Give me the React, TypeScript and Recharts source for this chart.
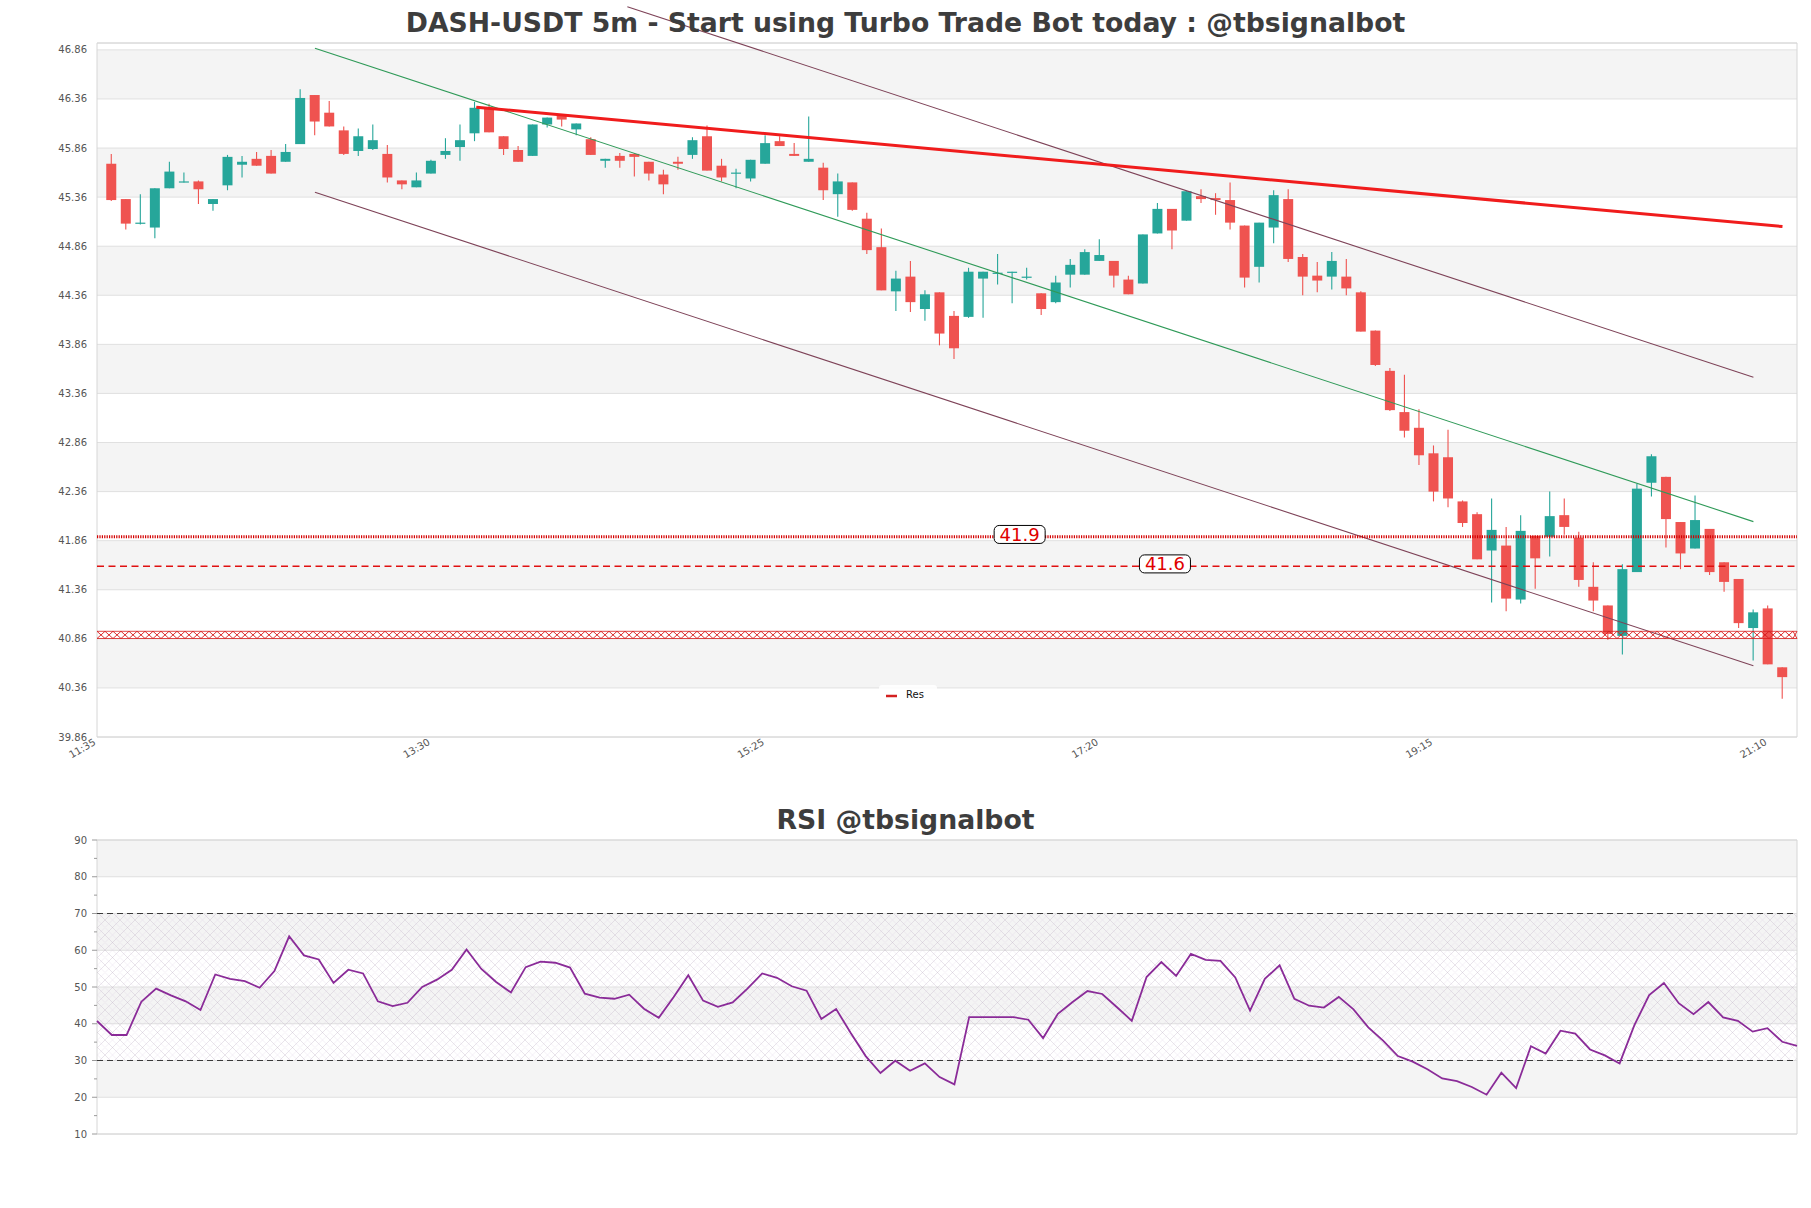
import React from 'react';
import {
  ComposedChart,
  Bar,
  Line,
  XAxis,
  YAxis,
  CartesianGrid,
  ReferenceLine,
  ReferenceArea,
  ReferenceDot,
} from 'recharts';

// ---------- DATA ----------
const opens = [
  45.70, 45.34, 45.09, 45.05, 45.45, 45.51, 45.52, 45.29, 45.48, 45.69,
  45.75, 45.78, 45.72, 45.90, 46.40, 46.22, 46.04, 45.83, 45.85, 45.80,
  45.53, 45.46, 45.60, 45.79, 45.87, 46.01, 46.27, 45.98, 45.84, 45.78,
  46.10, 46.19, 46.05, 45.95, 45.73, 45.78, 45.80, 45.72, 45.59, 45.72,
  45.79, 45.98, 45.68, 45.60, 45.55, 45.70, 45.93, 45.80, 45.72, 45.66,
  45.39, 45.51, 45.14, 44.85, 44.40, 44.55, 44.22, 44.39, 44.15, 44.14,
  44.53, 44.58, 44.59, 44.55, 44.38, 44.29, 44.57, 44.57, 44.71, 44.71,
  44.52, 44.48, 44.99, 45.24, 45.12, 45.37, 45.35, 45.33, 45.07, 44.65,
  45.05, 45.34, 44.75, 44.56, 44.55, 44.55, 44.39, 44.00, 43.59, 43.17,
  43.01, 42.75, 42.71, 42.26, 42.13, 41.76, 41.81, 41.26, 41.91, 41.90,
  42.12, 41.89, 41.39, 41.20, 40.89, 41.54, 42.45, 42.51, 42.05, 41.78,
  41.98, 41.64, 41.47, 40.97, 41.17, 40.57,
];
const highs = [
  45.80, 45.34, 45.39, 45.45, 45.72, 45.61, 45.53, 45.34, 45.79, 45.78,
  45.82, 45.84, 45.90, 46.46, 46.40, 46.34, 46.08, 46.06, 46.10, 45.89,
  45.53, 45.61, 45.74, 45.96, 46.10, 46.33, 46.31, 45.98, 45.88, 46.10,
  46.17, 46.19, 46.11, 45.97, 45.75, 45.81, 45.81, 45.72, 45.64, 45.77,
  45.97, 46.09, 45.75, 45.65, 45.74, 45.99, 45.98, 45.91, 46.18, 45.71,
  45.60, 45.51, 45.20, 45.04, 44.61, 44.71, 44.41, 44.39, 44.20, 44.64,
  44.60, 44.78, 44.60, 44.64, 44.38, 44.56, 44.73, 44.83, 44.93, 44.71,
  44.56, 44.98, 45.30, 45.24, 45.42, 45.44, 45.40, 45.51, 45.07, 45.10,
  45.43, 45.44, 44.78, 44.70, 44.80, 44.73, 44.40, 44.00, 43.62, 43.55,
  43.20, 42.83, 42.99, 42.27, 42.15, 42.29, 42.00, 42.12, 41.91, 42.36,
  42.29, 41.95, 41.64, 41.20, 41.62, 42.44, 42.74, 42.51, 42.05, 42.32,
  41.98, 41.64, 41.47, 41.16, 41.20, 40.57,
];
const lows = [
  45.32, 45.03, 45.08, 44.94, 45.45, 45.51, 45.29, 45.22, 45.43, 45.56,
  45.68, 45.60, 45.72, 45.90, 45.99, 46.08, 45.79, 45.78, 45.84, 45.51,
  45.44, 45.46, 45.60, 45.75, 45.73, 45.93, 46.02, 45.79, 45.72, 45.78,
  46.07, 46.08, 45.99, 45.79, 45.66, 45.66, 45.57, 45.53, 45.39, 45.64,
  45.75, 45.63, 45.52, 45.45, 45.52, 45.70, 45.88, 45.78, 45.72, 45.33,
  45.16, 45.22, 44.78, 44.41, 44.20, 44.19, 44.10, 43.85, 43.71, 44.13,
  44.13, 44.47, 44.28, 44.52, 44.16, 44.28, 44.44, 44.57, 44.71, 44.44,
  44.37, 44.48, 44.99, 44.83, 45.12, 45.30, 45.18, 45.03, 44.44, 44.49,
  44.89, 44.70, 44.36, 44.39, 44.42, 44.36, 43.99, 43.64, 43.18, 42.91,
  42.63, 42.26, 42.20, 42.00, 41.67, 41.23, 41.14, 41.22, 41.37, 41.70,
  41.92, 41.39, 41.14, 40.85, 40.70, 41.54, 42.31, 41.79, 41.57, 41.78,
  41.51, 41.34, 40.97, 40.64, 40.60, 40.25,
];
const closes = [
  45.33, 45.09, 45.10, 45.45, 45.62, 45.52, 45.44, 45.34, 45.77, 45.72,
  45.68, 45.60, 45.82, 46.37, 46.13, 46.08, 45.80, 45.98, 45.94, 45.56,
  45.49, 45.53, 45.73, 45.83, 45.94, 46.27, 46.02, 45.85, 45.72, 46.10,
  46.17, 46.15, 46.11, 45.79, 45.75, 45.73, 45.77, 45.60, 45.49, 45.70,
  45.94, 45.63, 45.56, 45.61, 45.74, 45.91, 45.88, 45.78, 45.75, 45.43,
  45.52, 45.23, 44.82, 44.41, 44.53, 44.29, 44.37, 43.97, 43.82, 44.60,
  44.60, 44.59, 44.60, 44.55, 44.22, 44.49, 44.67, 44.80, 44.77, 44.56,
  44.37, 44.98, 45.24, 45.02, 45.42, 45.34, 45.33, 45.10, 44.54, 45.10,
  45.38, 44.73, 44.55, 44.51, 44.71, 44.43, 43.99, 43.65, 43.19, 42.98,
  42.73, 42.36, 42.29, 42.04, 41.67, 41.97, 41.27, 41.96, 41.68, 42.11,
  42.00, 41.46, 41.25, 40.91, 41.57, 42.39, 42.72, 42.08, 41.73, 42.07,
  41.54, 41.44, 41.02, 41.13, 40.60, 40.47,
];

const rsiValues = [
  40.75, 36.94, 36.94, 46.0, 49.55, 47.73, 46.1, 43.74, 53.4, 52.2,
  51.6, 49.8, 54.35, 63.8, 58.6, 57.5, 51.1, 54.7, 53.7, 46.1,
  44.8, 45.7, 50.0, 52.0, 54.7, 60.2, 54.9, 51.35, 48.5, 55.4,
  56.9, 56.6, 55.3, 48.2, 47.1, 46.8, 47.9, 44.1, 41.6, 47.2,
  53.2, 46.3, 44.6, 45.8, 49.55, 53.7, 52.5, 50.2, 49.0, 41.3,
  44.0, 37.4, 31.2, 26.6, 29.95, 27.2, 29.2, 25.5, 23.5, 41.8,
  41.8, 41.8, 41.8, 41.1, 36.1, 42.7, 45.9, 48.9, 48.1, 44.5,
  40.8, 52.7, 56.8, 53.0, 59.0, 57.4, 57.1, 52.6, 43.6, 52.2,
  55.9, 46.8, 44.9, 44.4, 47.3, 43.9, 39.0, 35.4, 31.2, 29.7,
  27.6, 25.1, 24.4, 22.8, 20.7, 26.7, 22.5, 33.9, 31.9, 38.1,
  37.3, 33.0, 31.4, 29.2, 39.6, 47.8, 51.1, 45.6, 42.6, 45.9,
  41.75, 40.8, 37.85, 38.8, 35.1, 34.0,
];

const priceTicks = [
  39.86, 40.36, 40.86, 41.36, 41.86, 42.36, 42.86, 43.36,
  43.86, 44.36, 44.86, 45.36, 45.86, 46.36, 46.86,
];
const priceDomain = [39.86, 46.93];
const xDomain = [0, 117];
const xTickValues = [0, 23, 46, 69, 92, 115];
const xTickLabels = ['11:35', '13:30', '15:25', '17:20', '19:15', '21:10'];

const rsiDomain = [10, 90];
const rsiMajorTicks = [10, 20, 30, 40, 50, 60, 70, 80, 90];
const rsiAllTicks = [10, 15, 20, 25, 30, 35, 40, 45, 50, 55, 60, 65, 70, 75, 80, 85, 90];
const rsiBand = [30, 70];

const channelUpper = [{ x: 36.5, y: 47.30 }, { x: 114, y: 43.525 }];
const channelMid = [{ x: 15, y: 46.877 }, { x: 114, y: 42.054 }];
const channelLower = [{ x: 15, y: 45.41 }, { x: 114, y: 40.586 }];
const resistanceTrend = [{ x: 26.1, y: 46.276 }, { x: 116, y: 45.06 }];

const levelDotted = 41.9;
const levelDashed = 41.6;
const levelHatched = 40.9;
const levelTags = [
  { x: 63.5, y: 41.9, text: '41.9' },
  { x: 73.5, y: 41.6, text: '41.6' },
];

const candles = opens.map((o, k) => ({
  i: k + 1,
  o,
  h: highs[k],
  l: lows[k],
  c: closes[k],
  range: [lows[k], highs[k]],
}));
const rsiData = rsiValues.map((v, k) => ({ j: k, rsi: v }));

// ---------- SHAPES ----------
const UP = '#26a69a';
const DOWN = '#ef5350';

const Candle = (props: any) => {
  const { x, y, width, height, payload } = props;
  if (!payload || x == null || y == null) return null;
  const { o, h, l, c } = payload;
  const top0 = Math.min(y, y + height);
  const hgt = Math.abs(height);
  const ratio = h - l > 0 ? hgt / (h - l) : 0;
  const yOf = (v: number) => top0 + (h - v) * ratio;
  const color = c >= o ? UP : DOWN;
  const cx = x + width / 2;
  const bt = yOf(Math.max(o, c));
  const bb = yOf(Math.min(o, c));
  return (
    <g>
      <line x1={cx} x2={cx} y1={top0} y2={top0 + hgt} stroke={color} strokeWidth={1.1} />
      <rect x={x} y={bt} width={width} height={Math.max(bb - bt, 1.2)} fill={color} />
    </g>
  );
};

const HatchBand = (props: any) => {
  const { x1, x2, y1 } = props;
  if (x1 == null || y1 == null) return null;
  const half = 3.6;
  const top = y1 - half;
  const bot = y1 + half;
  const step = 8;
  const left = Math.min(x1, x2);
  const right = Math.max(x1, x2);
  let d = '';
  for (let px = left; px < right - 0.5; px += step) {
    const nx = Math.min(px + step, right);
    d += `M${px},${top}L${nx},${bot}M${nx},${top}L${px},${bot}`;
  }
  return (
    <g>
      <line x1={left} x2={right} y1={top} y2={top} stroke="#d81b1b" strokeWidth={0.8} />
      <line x1={left} x2={right} y1={bot} y2={bot} stroke="#d81b1b" strokeWidth={0.8} />
      <path d={d} stroke="#d81b1b" strokeWidth={0.9} fill="none" />
    </g>
  );
};

const LevelTag = ({ cx, cy, text }: any) => {
  if (cx == null || cy == null) return null;
  return (
    <g>
      <rect x={cx - 25.5} y={cy - 11.3} width={51} height={18} rx={5} ry={5} fill="#ffffff" stroke="#000000" strokeWidth={1} />
      <text x={cx} y={cy + 4} textAnchor="middle" fontSize={18} fill="#e00000">{text}</text>
    </g>
  );
};

const XTick = (props: any) => {
  const { x, y, payload } = props;
  const idx = xTickValues.indexOf(payload.value);
  const label = idx >= 0 ? xTickLabels[idx] : '';
  return (
    <g transform={`translate(${x - 4},${y + 1}) rotate(-30)`}>
      <text textAnchor="end" dy="0.71em" fontSize={10} fill="#555555">{label}</text>
    </g>
  );
};

const PriceTick = (props: any) => {
  const { x, y, payload } = props;
  return (
    <text x={x - 10} y={y} dy="0.35em" textAnchor="end" fontSize={10} fill="#555555">
      {Number(payload.value).toFixed(2)}
    </text>
  );
};

const RsiTick = (props: any) => {
  const { x, y, payload } = props;
  const v = payload.value;
  const major = rsiMajorTicks.indexOf(v) >= 0;
  return (
    <g>
      <line x1={x - (major ? 5 : 3)} x2={x} y1={y} y2={y} stroke="#9a9a9a" strokeWidth={1} />
      {major && (
        <text x={x - 10} y={y} dy="0.35em" textAnchor="end" fontSize={10} fill="#555555">{v}</text>
      )}
    </g>
  );
};

// ---------- APP ----------
export default function App() {
  const frame = '#d6d6d6';
  return (
    <div
      style={{
        position: 'absolute',
        left: 0,
        top: 0,
        width: 1811,
        height: 1208,
        background: '#ffffff',
        fontFamily: '"DejaVu Sans", sans-serif',
        overflow: 'hidden',
      }}
    >
      <div style={{ position: 'absolute', left: 0, top: 0 }}>
        <ComposedChart width={1811} height={790} data={candles} margin={{ top: 43, right: 14, bottom: 13, left: 0 }}>
          <CartesianGrid vertical={false} stroke="#e0e0e0" horizontalFill={['#ffffff', '#f4f4f4']} />
          <XAxis
            type="number"
            dataKey="i"
            domain={xDomain}
            ticks={xTickValues}
            interval={0}
            tick={<XTick />}
            tickLine={false}
            tickSize={0}
            tickMargin={0}
            axisLine={false}
            height={40}
            allowDataOverflow
          />
          <YAxis
            type="number"
            domain={priceDomain}
            ticks={priceTicks}
            interval={0}
            width={97}
            tick={<PriceTick />}
            tickLine={false}
            tickSize={0}
            tickMargin={0}
            axisLine={false}
            allowDataOverflow
          />
          <ReferenceArea x1={xDomain[0]} x2={xDomain[1]} y1={priceDomain[0]} y2={priceDomain[1]} fill="none" fillOpacity={0} stroke={frame} strokeWidth={1} />
          <Bar dataKey="range" barSize={10} shape={<Candle />} isAnimationActive={false} />
          <ReferenceLine segment={channelUpper} stroke="#7e4358" strokeWidth={1.1} ifOverflow="visible" />
          <ReferenceLine segment={channelMid} stroke="#2f9a58" strokeWidth={1.1} ifOverflow="visible" />
          <ReferenceLine segment={channelLower} stroke="#7e4358" strokeWidth={1.1} ifOverflow="visible" />
          <ReferenceLine segment={resistanceTrend} stroke="#f01c1c" strokeWidth={3} ifOverflow="visible" />
          <ReferenceLine y={levelDotted} stroke="#d40000" strokeWidth={3} strokeDasharray="1.2 1.2" />
          <ReferenceLine y={levelDashed} stroke="#e01010" strokeWidth={1.4} strokeDasharray="7 4.5" />
          <ReferenceLine y={levelHatched} shape={(p: any) => <HatchBand {...p} />} />
          {levelTags.map((t) => (
            <ReferenceDot
              key={t.text}
              x={t.x}
              y={t.y}
              r={1}
              shape={(p: any) => <LevelTag cx={p.cx} cy={p.cy} text={t.text} />}
            />
          ))}
        </ComposedChart>
      </div>

      <div style={{ position: 'absolute', left: 0, top: 800 }}>
        <ComposedChart width={1811} height={400} data={rsiData} margin={{ top: 40, right: 14, bottom: 66, left: 0 }}>
          <defs>
            <pattern id="rsiHatch" width={15} height={15} patternUnits="userSpaceOnUse">
              <path d="M0,0L15,15M15,0L0,15" stroke="#bfb3c7" strokeWidth={0.7} opacity={0.5} fill="none" />
              <path d="M7.5,0L15,7.5M0,7.5L7.5,15M7.5,0L0,7.5M15,7.5L7.5,15" stroke="#d6ccdc" strokeWidth={0.6} opacity={0.45} fill="none" />
            </pattern>
          </defs>
          <CartesianGrid
            vertical={false}
            stroke="#e0e0e0"
            horizontalValues={rsiMajorTicks}
            horizontalFill={['#f4f4f4', '#ffffff']}
          />
          <XAxis type="number" dataKey="j" domain={[0, rsiValues.length - 1]} hide />
          <YAxis
            type="number"
            domain={rsiDomain}
            ticks={rsiAllTicks}
            interval={0}
            width={97}
            tick={<RsiTick />}
            tickLine={false}
            tickSize={0}
            tickMargin={0}
            axisLine={false}
          />
          <ReferenceArea y1={rsiBand[0]} y2={rsiBand[1]} fill="url(#rsiHatch)" fillOpacity={1} stroke="none" />
          <ReferenceArea x1={0} x2={rsiValues.length - 1} y1={rsiDomain[0]} y2={rsiDomain[1]} fill="none" fillOpacity={0} stroke={frame} strokeWidth={1} />
          <ReferenceLine y={rsiBand[1]} stroke="#3a3a3a" strokeWidth={1.2} strokeDasharray="6 4" />
          <ReferenceLine y={rsiBand[0]} stroke="#3a3a3a" strokeWidth={1.2} strokeDasharray="6 4" />
          <Line type="linear" dataKey="rsi" stroke="#8a2b98" strokeWidth={1.8} dot={false} isAnimationActive={false} />
        </ComposedChart>
      </div>

      <svg width={1811} height={1208} style={{ position: 'absolute', left: 0, top: 0, pointerEvents: 'none' }}>
        <text x={905.5} y={31.5} textAnchor="middle" fontSize={26.7} fontWeight="bold" fill="#3d3d3d">
          DASH-USDT 5m - Start using Turbo Trade Bot today : @tbsignalbot
        </text>
        <text x={905.5} y={829.3} textAnchor="middle" fontSize={26.7} fontWeight="bold" fill="#3d3d3d">
          RSI @tbsignalbot
        </text>
        <g>
          <rect x={879} y={685} width={58} height={20} rx={3} fill="#ffffff" fillOpacity={0.85} />
          <line x1={886} x2={897} y1={696} y2={696} stroke="#d32020" strokeWidth={2.5} />
          <text x={906} y={698} fontSize={10} fill="#111111">Res</text>
        </g>
      </svg>
    </div>
  );
}
